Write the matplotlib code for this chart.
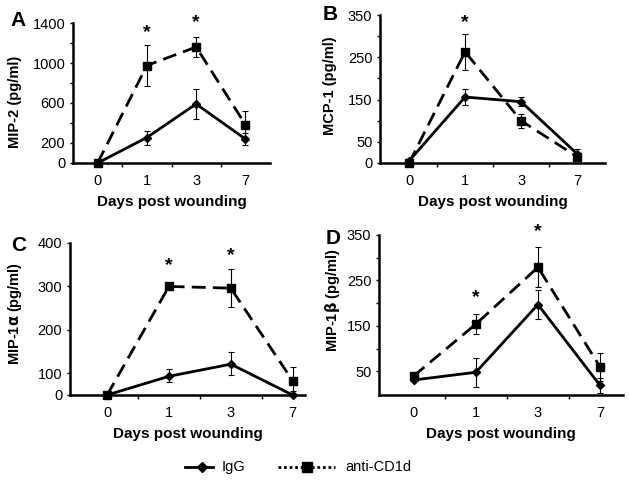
import numpy as np
import matplotlib
matplotlib.use("Agg")
import matplotlib.pyplot as plt
from matplotlib.lines import Line2D

plt.rcParams['font.family'] = ['Liberation Sans', 'DejaVu Sans']

# x categories (days post wounding), drawn at equal spacing
days = ['0', '1', '3', '7']
xpos = np.arange(len(days))

# Panel A: MIP-2
a_igg = [0, 255, 590, 240]
a_igg_err = [0, 70, 150, 62]
a_cd1d = [0, 975, 1160, 385]
a_cd1d_err = [0, 205, 100, 135]
a_stars = [(1, 1300), (2, 1400)]

# Panel B: MCP-1
b_igg = [5, 156, 145, 22]
b_igg_err = [0, 20, 11, 10]
b_cd1d = [0, 263, 100, 15]
b_cd1d_err = [0, 43, 17, 5]
b_stars = [(1, 333)]

# Panel C: MIP-1alpha
c_igg = [0, 86, 121, 0]
c_igg_err = [0, 25, 29, 0]
c_cd1d = [0, 300, 296, 66]
c_cd1d_err = [0, 8, 43, 48]
c_stars = [(1, 349), (2, 372)]

# Panel D: MIP-1beta
d_igg = [31, 48, 197, 19]
d_igg_err = [0, 32, 31, 17]
d_cd1d = [40, 154, 279, 60]
d_cd1d_err = [0, 22, 44, 31]
d_stars = [(1, 213), (2, 357)]

W, H = 629, 484
fig = plt.figure(figsize=(W / 100, H / 100), dpi=100)


def px_axes(l, r, t, b):
    return fig.add_axes([l / W, 1 - b / H, (r - l) / W, (b - t) / H])


def draw_panel(ax, igg, igg_err, cd1d, cd1d_err, stars, ylabel, ylab_xy,
               xlim, ylim, yticks, ylabels, yminor):
    ax.errorbar(xpos, igg, yerr=igg_err, color='black', lw=2, marker='D',
                ms=4.5, elinewidth=0.8, capsize=2.5, capthick=0.8, clip_on=False, zorder=3)
    ax.errorbar(xpos, cd1d, yerr=cd1d_err, color='black', lw=2, marker='s',
                ms=5.5, elinewidth=0.8, capsize=2.5, capthick=0.8, clip_on=False,
                dashes=(5, 2.6), zorder=3)
    for sx, sy in stars:
        ax.text(sx, sy, '*', ha='center', va='center', fontsize=14,
                fontweight='bold', clip_on=False)
    ax.set_xlim(*xlim)
    ax.set_ylim(*ylim)
    ax.set_xticks(xpos)
    ax.set_xticklabels(days)
    ax.set_xticks(xpos[:-1] + 0.5, minor=True)
    ax.set_yticks(yticks)
    ax.set_yticklabels(ylabels)
    ax.set_yticks(yminor, minor=True)
    for s in ['top', 'right']:
        ax.spines[s].set_visible(False)
    for s in ['left', 'bottom']:
        ax.spines[s].set_linewidth(1.8)
    ax.tick_params(axis='x', which='major', length=0, labelsize=10.5, pad=8)
    ax.tick_params(axis='x', which='minor', length=3, width=1, direction='out')
    ax.tick_params(axis='y', which='both', length=2.5, width=1, direction='out',
                   labelsize=10.5, pad=3)
    ax.set_xlabel('Days post wounding', fontsize=11, fontweight='bold', labelpad=5)
    ax.set_ylabel(ylabel, fontsize=10.5, fontweight='bold', va='center')
    ax.yaxis.set_label_coords(ylab_xy[0] / W, 1 - ylab_xy[1] / H, transform=fig.transFigure)
    ax.patch.set_alpha(0)
    return ax


axA = px_axes(73, 270, 23, 163)
draw_panel(axA, a_igg, a_igg_err, a_cd1d, a_cd1d_err, a_stars, 'MIP-2 (pg/ml)', (15, 102),
           (-0.5, 3.5), (0, 1400), [0, 200, 600, 1000, 1400],
           ['0', '200', '600', '1000', '1400'], np.arange(0, 1401, 200))

axB = px_axes(380, 605, 15, 163)
draw_panel(axB, b_igg, b_igg_err, b_cd1d, b_cd1d_err, b_stars, 'MCP-1 (pg/ml)', (330, 86),
           (-0.52, 3.5), (0, 350), [0, 50, 150, 250, 350],
           ['0', '50', '150', '250', '350'], np.arange(0, 351, 50))

# panel C has a compressed 0-100 segment on its y axis
axC = px_axes(70, 305, 243, 395)


def c_fwd(v):
    v = np.asarray(v, dtype=float)
    return np.where(v < 100, v / 2, v - 50)


def c_inv(y):
    y = np.asarray(y, dtype=float)
    return np.where(y < 50, y * 2, y + 50)


axC.set_yscale('function', functions=(c_fwd, c_inv))
draw_panel(axC, c_igg, c_igg_err, c_cd1d, c_cd1d_err, c_stars, r'MIP-1$\mathbf{\alpha}$ (pg/ml)', (15, 313),
           (-0.6, 3.2), (0, 400), [0, 100, 200, 300, 400],
           ['0', '100', '200', '300', '400'], [0, 100, 200, 300, 400])

axD = px_axes(379, 623, 235, 395)
draw_panel(axD, d_igg, d_igg_err, d_cd1d, d_cd1d_err, d_stars, r'MIP-1$\mathbf{\beta}$ (pg/ml)', (333, 300),
           (-0.56, 3.37), (-2, 350), [50, 150, 250, 350],
           ['50', '150', '250', '350'], np.arange(50, 351, 50))

# panel letters
for letter, x, y in [('A', 10, 20), ('B', 323, 15), ('C', 11, 245), ('D', 326, 239)]:
    fig.text(x / W, 1 - y / H, letter, fontsize=15, fontweight='bold',
             ha='left', va='center')

# legend, drawn by hand in figure pixels
ly = 1 - 467 / H
fig.add_artist(Line2D([185 / W, 213 / W], [ly, ly], color='black', lw=2,
                      transform=fig.transFigure))
fig.add_artist(Line2D([202 / W], [ly], color='black', marker='D', ms=5,
                      transform=fig.transFigure))
fig.text(222 / W, ly, 'IgG', fontsize=10.5, va='center', ha='left')
fig.add_artist(Line2D([278 / W, 335 / W], [ly, ly], color='black', lw=2,
                      linestyle=(0, (1, 1)), transform=fig.transFigure))
fig.add_artist(Line2D([307 / W], [ly], color='black', marker='s', ms=7,
                      transform=fig.transFigure))
fig.text(345 / W, ly, 'anti-CD1d', fontsize=10.5, va='center', ha='left')

fig.savefig('out.png', dpi=100)
